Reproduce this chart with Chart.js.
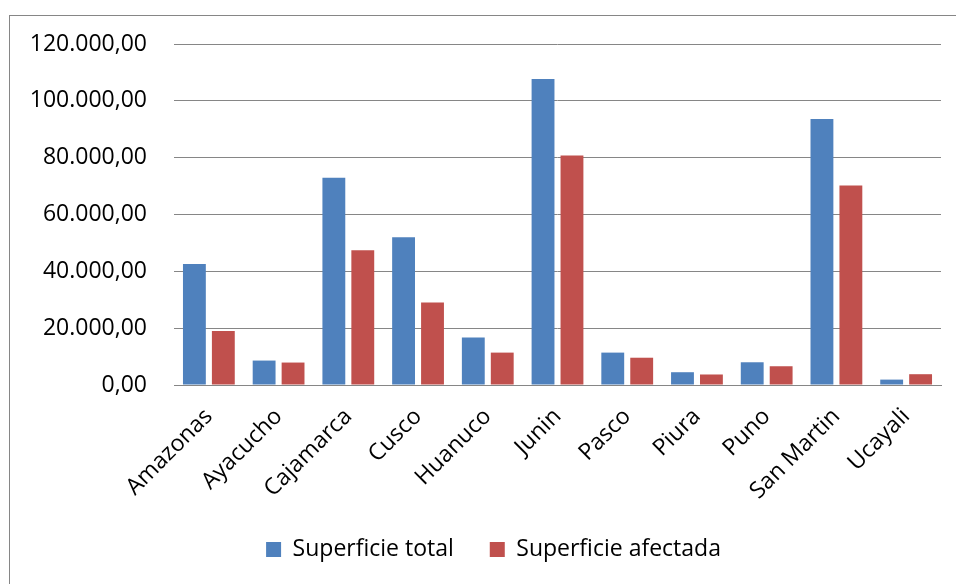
<!DOCTYPE html>
<html lang="es">
<head>
<meta charset="UTF-8">
<title>Superficie total y afectada</title>
<script src="https://cdn.jsdelivr.net/npm/chart.js@4/dist/chart.umd.min.js"></script>
<style>
  html, body { margin: 0; padding: 0; background: #fff; overflow: hidden; }
  #wrap { position: relative; width: 956px; height: 584px; }
  #frame { position: absolute; left: 9px; top: 15px; width: 1000px; height: 1000px; border: 1px solid #868686; box-sizing: border-box; }
  #chart { position: absolute; left: 0; top: 0; }
</style>
</head>
<body>
<div id="wrap">
  <div id="frame"></div>
  <canvas id="chart" width="956" height="584"></canvas>
</div>
<script>
const regiones = ['Amazonas', 'Ayacucho', 'Cajamarca', 'Cusco', 'Huanuco', 'Junin',
  'Pasco', 'Piura', 'Puno', 'San Martin', 'Ucayali'];
const superficieTotal = [42600, 8600, 72900, 52000, 16700, 107700, 11400, 4500, 8000, 93600, 1900];
const superficieAfectada = [19000, 7900, 47400, 29000, 11400, 80800, 9600, 3700, 6600, 70200, 3800];
const yMax = 120000;
const yStep = 20000;

// 120000 -> "120.000,00"
function formatoEs(v) {
  const ent = Math.round(v).toString().replace(/\B(?=(\d{3})+(?!\d))/g, '.');
  return ent + ',00';
}

const fuente = { family: "'Open Sans', sans-serif", size: 23 };

// the Excel legend sits centred on the whole frame, a bit right of the canvas centre
const moverLeyenda = {
  id: 'moverLeyenda',
  afterLayout(chart) {
    chart.legend.left += 9;
    chart.legend.right += 9;
  }
};

new Chart(document.getElementById('chart'), {
  type: 'bar',
  data: {
    labels: regiones,
    datasets: [
      { label: 'Superficie total', data: superficieTotal, backgroundColor: '#4F81BD' },
      { label: 'Superficie afectada', data: superficieAfectada, backgroundColor: '#C0504D' }
    ]
  },
  plugins: [moverLeyenda],
  options: {
    responsive: false,
    devicePixelRatio: 1,
    animation: false,
    categoryPercentage: 0.83,
    barPercentage: 0.79,
    layout: { padding: { left: 28, right: 15, top: 44, bottom: 22 } },
    plugins: {
      tooltip: { enabled: false },
      legend: {
        position: 'bottom',
        maxHeight: 60,
        labels: {
          boxWidth: 15,
          boxHeight: 15,
          padding: 36,
          color: '#000',
          font: fuente
        }
      }
    },
    scales: {
      x: {
        grid: { display: false },
        border: { color: '#868686', width: 1 },
        ticks: {
          color: '#000',
          font: fuente,
          maxRotation: 45,
          minRotation: 45,
          autoSkip: false,
          padding: 10
        },
        afterFit: function (scale) { scale.height = 117; }
      },
      y: {
        min: 0,
        max: yMax,
        border: { display: false },
        grid: { color: '#868686', lineWidth: 1, drawTicks: false },
        ticks: {
          stepSize: yStep,
          color: '#000',
          font: fuente,
          padding: 27,
          callback: function (v) { return formatoEs(v); }
        },
        afterFit: function (scale) { scale.width = 146; }
      }
    }
  }
});
</script>
</body>
</html>
